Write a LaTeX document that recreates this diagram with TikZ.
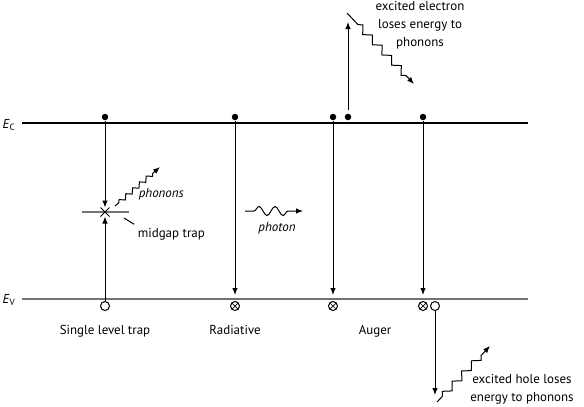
\documentclass[tikz,border=0pt]{standalone}
\usepackage{fontspec}
\setmainfont{PT Sans}
\usetikzlibrary{arrows.meta, positioning, shapes.misc, decorations.pathmorphing}

\begin{document}
\begin{tikzpicture}[
						x=1bp, y=-1bp, line width=1bp,
						>={Latex[length=7bp,width=5.5bp]},
						every node/.style = {font=\fontsize{13}{18}\selectfont},
						band/.style = {line width=1.1bp},
						vband/.style = {line width=1.3bp, black!55},
						elec/.style = {fill, circle, inner sep=0pt, minimum size=6.5bp},
						hole/.style = {draw, circle, inner sep=0pt, minimum size=9bp},
						xhole/.style = {hole, path picture={\draw[line width=0.7bp]
							(path picture bounding box.north west) -- (path picture bounding box.south east)
							(path picture bounding box.north east) -- (path picture bounding box.south west);}},
						trap/.style = {draw, cross out, inner sep=0pt, minimum size=8bp},
						phonon/.style = {->, decorate, decoration={zigzag, amplitude=3.4bp, segment length=14bp, pre length=16bp, post length=8bp}},
						sphonon/.style = {->, decorate, decoration={zigzag, amplitude=2.2bp, segment length=9bp, pre length=5bp, post length=7bp}},
						photon/.style = {->, decorate, decoration={snake, amplitude=4.5bp, segment length=16bp, pre length=9bp, post length=14bp}}
					]
\useasboundingbox (0,0) rectangle (584,406);

% bands
\coordinate (c0) at (22,123);
\coordinate (c1) at (528,123);
\coordinate (v0) at (22,299);
\coordinate (v1) at (528,299);
\draw[band] (c0) -- (c1);
\draw[vband] (v0) -- (v1);
\node (Ec) at (9,125) {\textit{E}\textsubscript{C}};
\node (Ev) at (9,300) {\textit{E}\textsubscript{V}};

% single level trap
\coordinate (tl) at (82,212);
\coordinate (tr) at (129,212);
\draw[vband, line width=1.2bp] (tl) -- (tr);
\node[elec] (e1) at (105,117) {};
\node[trap] (t1) at (105,212) {};
\node[hole] (h1) at (105,306) {};
\draw[->] (e1) -- (t1);
\draw[->] (h1) -- (t1);
\coordinate (p1s) at (115,206);
\coordinate (p1e) at (160,167);
\draw[sphonon] (p1s) -- (p1e);
\node[anchor=west] (pn) at (135,194) {\textit{phonons}};
\node[anchor=west] (mg) at (134,234) {midgap trap};
\coordinate (mgp) at (124,218);
\draw (mgp) -- (mg.north west);
\node[below=10bp of h1] (l1) {Single level trap};

% radiative
\node[elec] (e2) at (235,117) {};
\node[xhole] (r2) at (235,306) {};
\draw[->, shorten >=6bp] (e2) -- (r2);
\coordinate (ph0) at (245,211);
\coordinate (ph1) at (303,211);
\draw[photon] (ph0) -- (ph1);
\node (pt) at (277,228) {\textit{photon}};
\node[below=10bp of r2] (l2) {Radiative};

% auger
\node[elec] (e3) at (333,117) {};
\node[elec] (e5) at (348,117) {};
\node[elec] (e4) at (423,117) {};
\node[xhole] (a3) at (333,306) {};
\node[xhole] (a4) at (423,306) {};
\node[hole] (h4) at (435,306) {};
\draw[->, shorten >=6bp] (e3) -- (a3);
\draw[->, shorten >=6bp] (e4) -- (a4);
\coordinate (up) at (348,22);
\draw[->, shorten <=3bp] (e5) -- (up);
\coordinate (pe0) at (347,13);
\coordinate (pe1) at (414,84);
\draw[phonon] (pe0) -- (pe1);
\node[align=center] (txe) at (420,25) {excited electron\\loses energy to\\phonons};
\coordinate (dn) at (435,395);
\draw[->] (h4) -- (dn);
\coordinate (ph2) at (437,402);
\coordinate (ph3) at (490,346);
\draw[phonon, decoration={pre length=8bp}] (ph2) -- (ph3);
\node[align=center] (txh) at (522,389) {excited hole loses\\energy to phonons};
\node (l3) at (375,331) {Auger};
\end{tikzpicture}
\end{document}
